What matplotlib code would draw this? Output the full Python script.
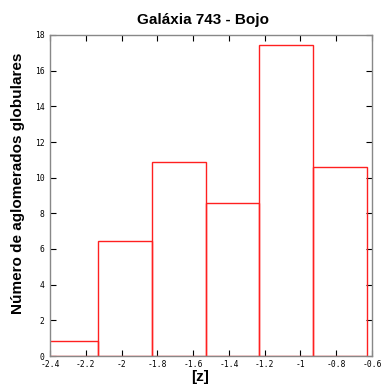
import matplotlib
matplotlib.use("Agg")
import matplotlib.pyplot as plt
import numpy as np

# Data
bin_left_edges = [-2.43, -2.13, -1.83, -1.53, -1.23, -0.93]
bin_width = 0.3
counts = [0.82, 6.43, 10.9, 8.6, 17.42, 10.62]
x_ticks = [-2.4, -2.2, -2.0, -1.8, -1.6, -1.4, -1.2, -1.0, -0.8, -0.6]
x_tick_labels = ["-2.4", "-2.2", "-2", "-1.8", "-1.6", "-1.4", "-1.2", "-1", "-0.8", "-0.6"]
y_ticks = [0, 2, 4, 6, 8, 10, 12, 14, 16, 18]
y_tick_labels = ["0", "2", "4", "6", "8", "10", "12", "14", "16", "18"]

W, H = 382, 387
fig = plt.figure(figsize=(W / 100, H / 100), dpi=100)
ax = fig.add_axes([50 / W, 1 - 356 / H, (372 - 50) / W, (356 - 35) / H])

ax.bar(bin_left_edges, counts, width=bin_width, align="edge",
       fill=False, edgecolor="#ff2020", linewidth=1.0, zorder=2)

ax.set_xlim(-2.4, -0.6)
ax.set_ylim(0, 18)
ax.set_xticks(x_ticks)
ax.set_xticklabels(x_tick_labels)
ax.set_yticks(y_ticks)
ax.set_yticklabels(y_tick_labels)

for s in ax.spines.values():
    s.set_color("#888888")
    s.set_linewidth(1.0)
    s.set_zorder(3)

ax.tick_params(direction="in", length=4, width=0.8, color="black",
               top=True, right=True, labelsize=5.8)
ax.tick_params(axis="x", pad=3)
ax.tick_params(axis="y", pad=4)
for lab in ax.get_xticklabels() + ax.get_yticklabels():
    lab.set_family("DejaVu Sans Mono")

fig.text(203 / W, 1 - 20 / H, "Galáxia 743 - Bojo", ha="center", va="center",
         fontsize=11, fontweight="bold", family="Liberation Sans")
ax.set_ylabel("Número de aglomerados globulares", fontsize=11, fontweight="bold",
              family="Liberation Sans")
ax.yaxis.set_label_coords((25 - 50) / 322, (356 - 183) / 321)
ax.set_xlabel("[z]", fontsize=11, fontweight="bold", family="Liberation Sans")
ax.xaxis.set_label_coords((200 - 50) / 322, -(370 - 356) / 321)

fig.savefig("out.png", dpi=100)
